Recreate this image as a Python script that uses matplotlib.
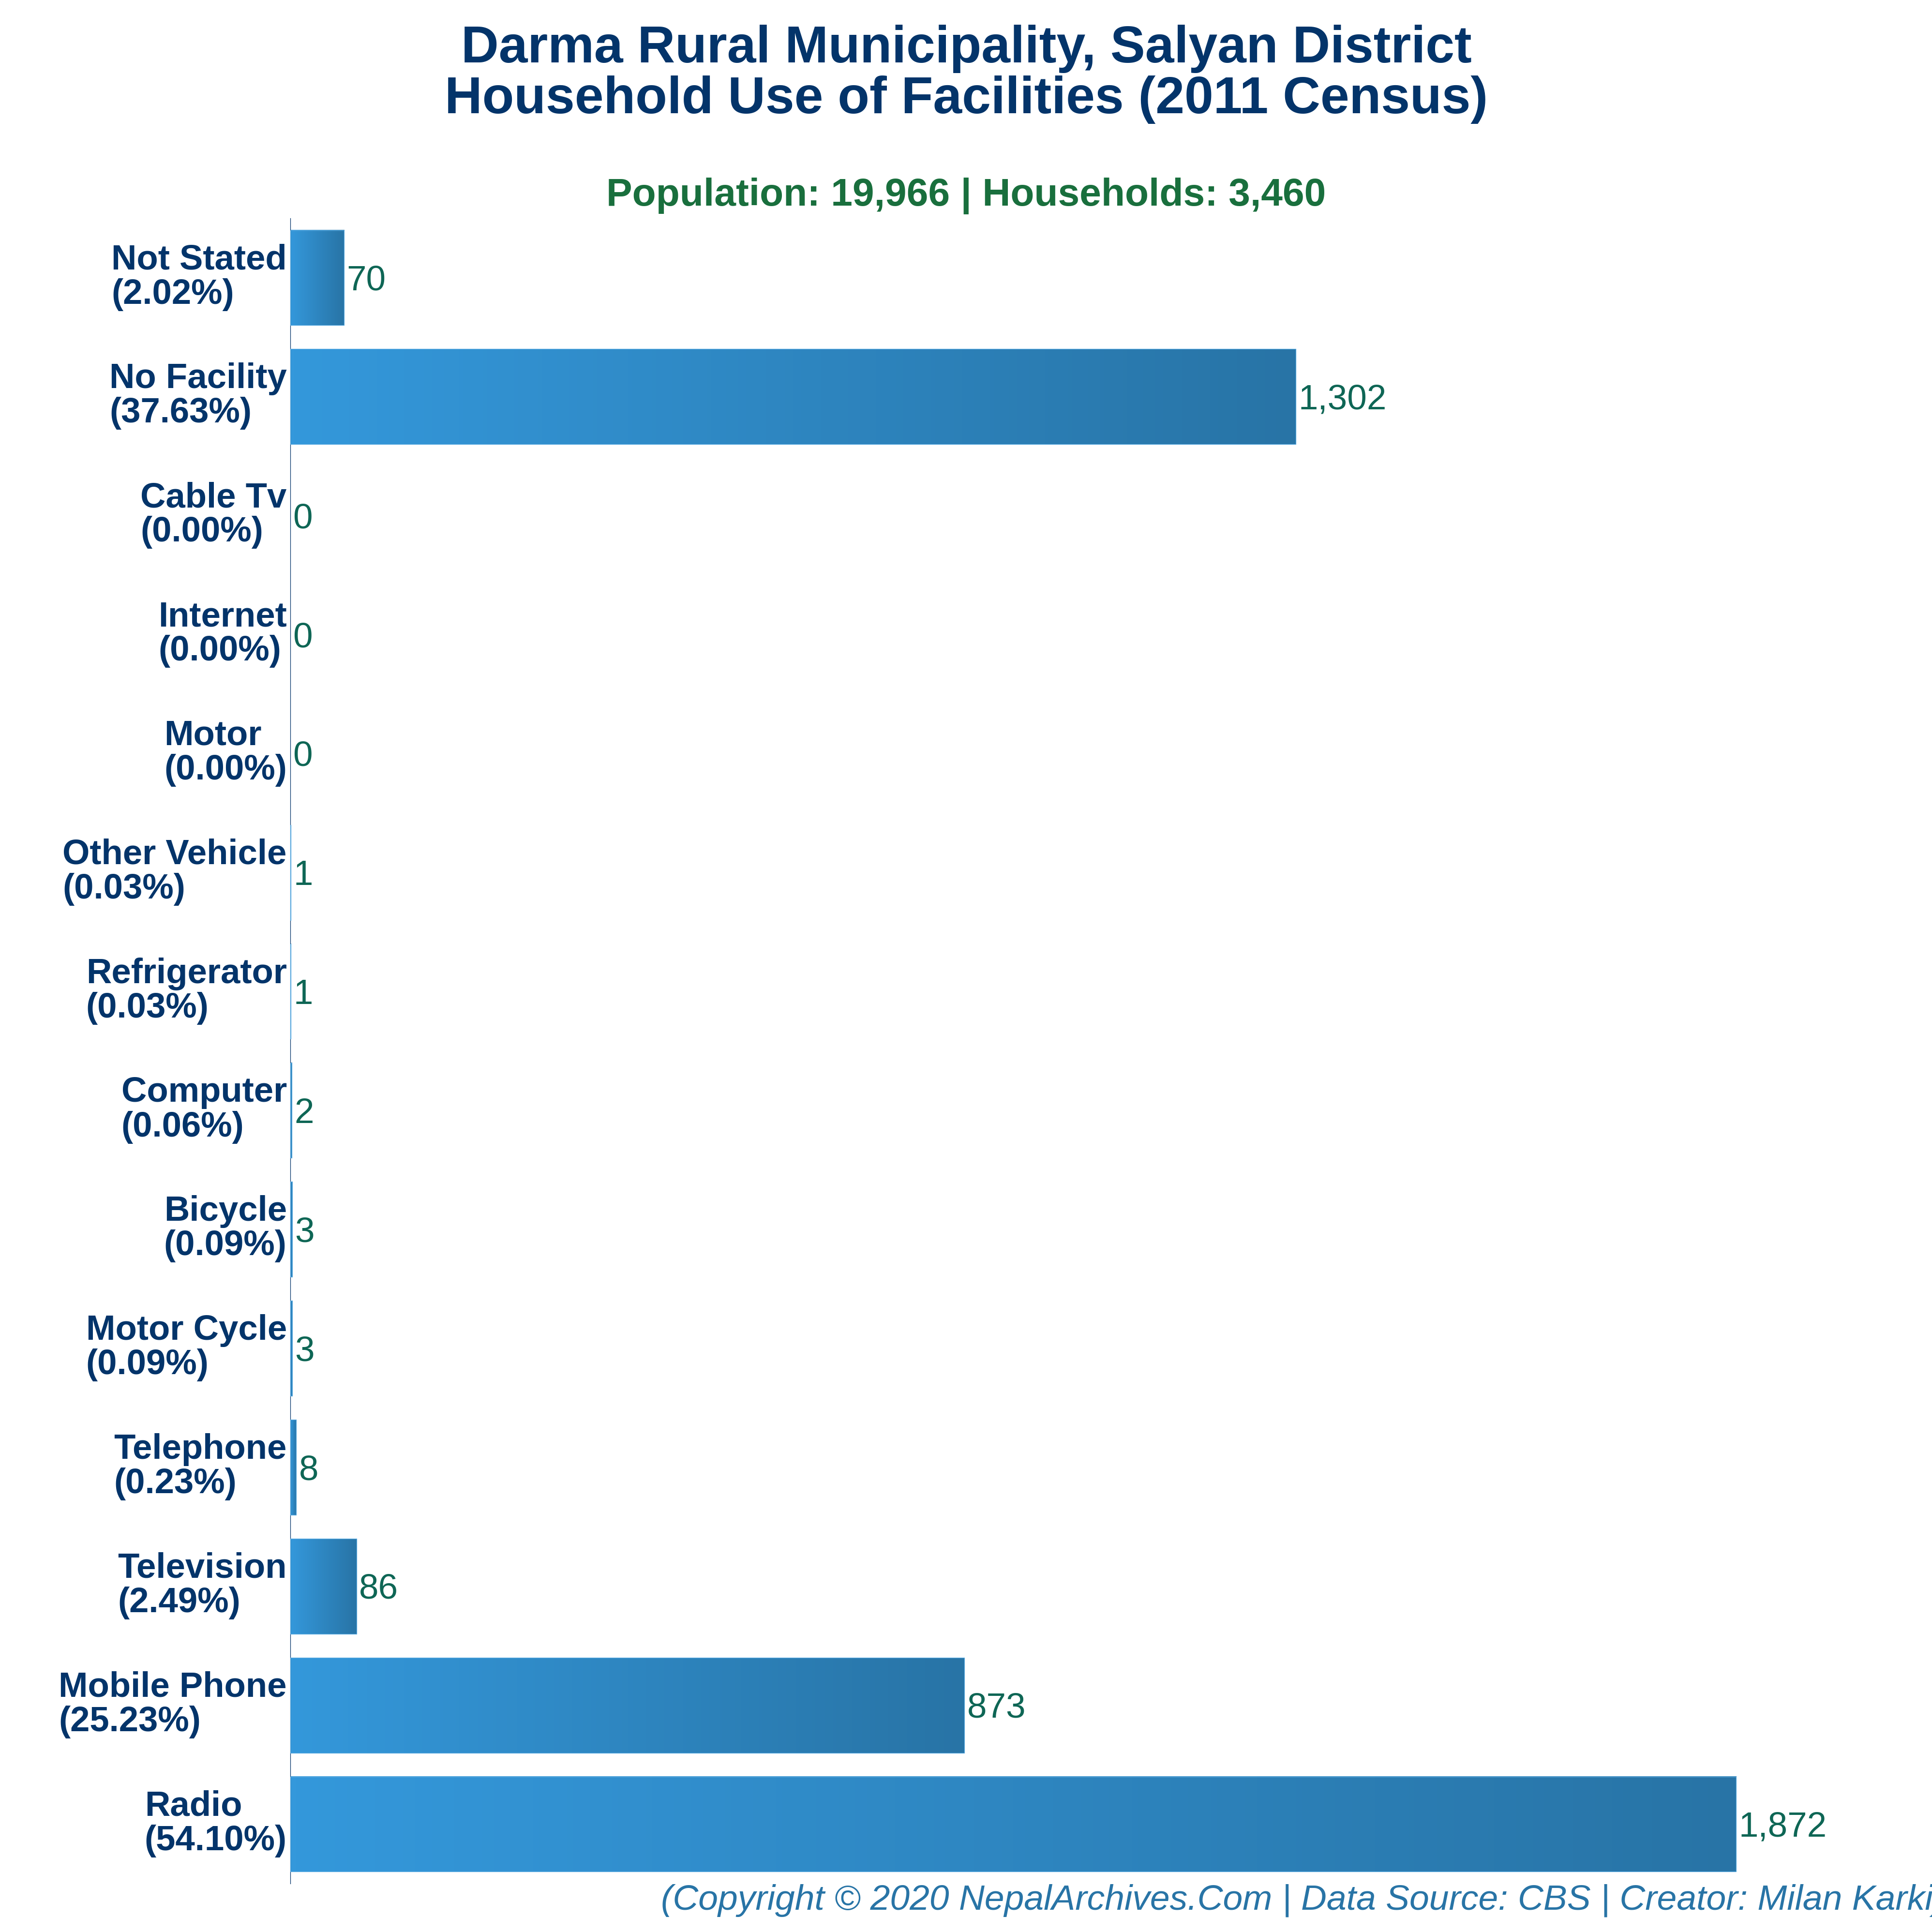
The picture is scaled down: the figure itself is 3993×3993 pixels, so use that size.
#!/usr/bin/env python3
import matplotlib
matplotlib.use("Agg")
import matplotlib.pyplot as plt
from matplotlib.colors import LinearSegmentedColormap
from matplotlib.transforms import ScaledTranslation
import numpy as np

plt.rcParams["font.family"] = ["Liberation Sans", "DejaVu Sans"]

# bottom to top, as on the chart
categories = ["Radio", "Mobile Phone", "Television", "Telephone", "Motor Cycle",
              "Bicycle", "Computer", "Refrigerator", "Other Vehicle", "Motor",
              "Internet", "Cable Tv", "No Facility", "Not Stated"]
households = [1872, 873, 86, 8, 3, 3, 2, 1, 1, 0, 0, 0, 1302, 70]
percents = ["54.10", "25.23", "2.49", "0.23", "0.09", "0.09", "0.06", "0.03",
            "0.03", "0.00", "0.00", "0.00", "37.63", "2.02"]

title = "Darma Rural Municipality, Salyan District\nHousehold Use of Facilities (2011 Census)"
subtitle = "Population: 19,966 | Households: 3,460"
footer = "(Copyright © 2020 NepalArchives.Com | Data Source: CBS | Creator: Milan Karki)"

NAVY = "#03346a"
GREEN = "#196f3d"
TEAL = "#0e6655"
FOOT = "#2874a6"
SIZE = 3993
PX_PER_UNIT = 1.5964

cmap = LinearSegmentedColormap.from_list("bar", ["#3498db", "#2874a6"])
gradient = np.linspace(0, 1, 256).reshape(1, -1)

fig = plt.figure(figsize=(SIZE / 300, SIZE / 300), dpi=300)
left, right = 599.5, SIZE
top, bottom = 451, 3893
ax = fig.add_axes([left / SIZE, 1 - bottom / SIZE, (right - left) / SIZE, (bottom - top) / SIZE])

y = np.arange(len(categories))
for yi, val in zip(y, households):
    if val == 0:
        continue
    ax.imshow(gradient, cmap=cmap, aspect="auto", zorder=2,
              extent=(0, val, yi - 0.4, yi + 0.4))
    ax.barh(yi, val, height=0.8, facecolor="none", edgecolor="#5dade2", linewidth=0.3, zorder=3)

ax.set_xlim(0, (right - left) / PX_PER_UNIT)
ax.set_ylim(-0.5, len(categories) - 0.5)

for yi, val in zip(y, households):
    ax.annotate(f"{val:,}", (val, yi), xytext=(1.3, -1.7), textcoords="offset points",
                va="center", ha="left", fontsize=17.5, color=TEAL)

ax.set_xticks([])
ax.set_yticks(y)
ax.set_yticklabels([f"{c}\n({p}%)" for c, p in zip(categories, percents)],
                   fontsize=17.4, fontweight="bold", color=NAVY, ma="left", linespacing=1.06)
ax.tick_params(axis="y", length=0, pad=1.6)
# labels sit a little above the bar centre
shift = ScaledTranslation(0, 2.4 / 72, fig.dpi_scale_trans)
for lab in ax.get_yticklabels():
    lab.set_transform(lab.get_transform() + shift)
for name in ["top", "right", "bottom"]:
    ax.spines[name].set_visible(False)
ax.spines["left"].set_color(NAVY)
ax.spines["left"].set_linewidth(0.3)

fig.text(1997 / SIZE, 1 - 153.5 / SIZE, title, ha="center", va="center", fontsize=25.8,
         fontweight="bold", color=NAVY, linespacing=1.06)
fig.text(1997 / SIZE, 1 - 405 / SIZE, subtitle, ha="center", va="center", fontsize=19.3,
         fontweight="bold", color=GREEN)
fig.text(1366 / SIZE, 1 - 3947 / SIZE, footer, ha="left", va="baseline", fontsize=17.6,
         style="italic", color=FOOT)

plt.savefig("out.png", dpi=300)
